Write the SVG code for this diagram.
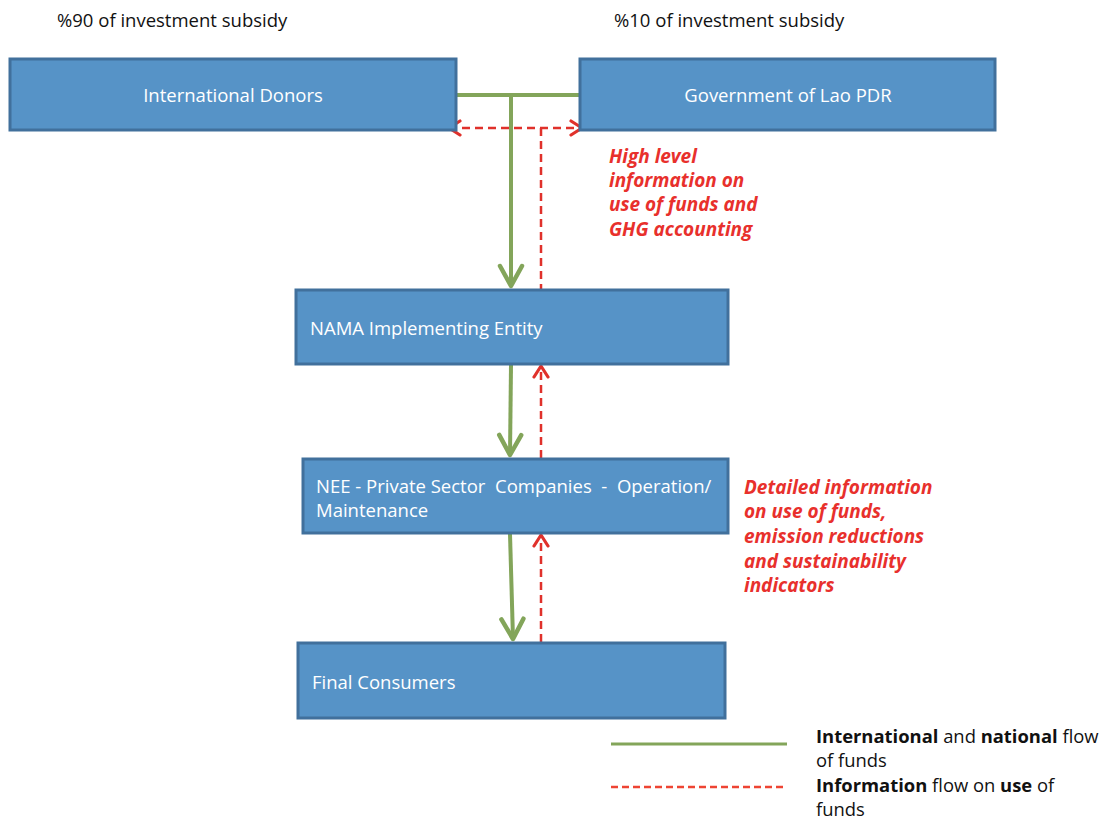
<svg xmlns="http://www.w3.org/2000/svg" width="1104" height="821" viewBox="0 0 1104 821">
  <defs>
    <style>
      .box { fill: #5693C7; stroke: #41709C; stroke-width: 3; }
      .btxt { font-family: "Open Sans", "Liberation Sans", sans-serif; font-size: 18.5px; fill: #FFFFFF; }
      .top { font-family: "Open Sans", "Liberation Sans", sans-serif; font-size: 18.5px; fill: #111111; }
      .note { font-family: "Open Sans", "Liberation Sans", sans-serif; font-size: 19px; font-weight: bold; font-style: italic; fill: #E8302C; }
      .leg { font-family: "Open Sans", "Liberation Sans", sans-serif; font-size: 18.4px; fill: #111111; }
      .fund { fill: none; stroke: #83A55A; stroke-width: 4; }
      .info { fill: none; stroke: #E0312B; stroke-width: 2.5; stroke-dasharray: 8 5; }
    </style>
    <!-- markers are drawn pointing along +x so orient="auto" lines them up with each path -->
    <marker id="gArrow" viewBox="0 0 26 28" refX="23" refY="14" markerWidth="26" markerHeight="28" markerUnits="userSpaceOnUse" orient="auto-start-reverse">
      <path d="M3 3 L23 14 L3 25" fill="none" stroke="#83A55A" stroke-width="4.5" stroke-linecap="round" stroke-linejoin="round"/>
    </marker>
    <marker id="rArrow" viewBox="0 0 18 18" refX="15" refY="9" markerWidth="18" markerHeight="18" markerUnits="userSpaceOnUse" orient="auto-start-reverse">
      <path d="M4 2 L15 9 L4 16" fill="none" stroke="#E0312B" stroke-width="3.2" stroke-linecap="round" stroke-linejoin="round"/>
    </marker>
  </defs>
  <rect width="1104" height="821" fill="#FFFFFF"/>

  <text class="top" x="57" y="27">%90 of investment subsidy</text>
  <text class="top" x="614" y="27">%10 of investment subsidy</text>

  <g id="connectors">
    <!-- funding flows -->
    <line class="fund" x1="456" y1="95" x2="580" y2="95"/>
    <line class="fund" x1="511" y1="95" x2="511" y2="286" marker-end="url(#gArrow)"/>
    <line class="fund" x1="511" y1="365" x2="510" y2="455" marker-end="url(#gArrow)"/>
    <line class="fund" x1="510" y1="534" x2="513" y2="639" marker-end="url(#gArrow)"/>
    <!-- information flows -->
    <line class="info" x1="449" y1="128" x2="582" y2="128" marker-start="url(#rArrow)" marker-end="url(#rArrow)"/>
    <line class="info" x1="541" y1="128" x2="541" y2="290"/>
    <line class="info" x1="541" y1="458" x2="541" y2="366" marker-end="url(#rArrow)"/>
    <line class="info" x1="541" y1="642" x2="541" y2="535" marker-end="url(#rArrow)"/>
  </g>

  <g id="donors">
    <rect class="box" x="10" y="59" width="446" height="71"/>
    <text class="btxt" x="233" y="102" text-anchor="middle">International Donors</text>
  </g>
  <g id="government">
    <rect class="box" x="580" y="59" width="415" height="71"/>
    <text class="btxt" x="788" y="102" text-anchor="middle">Government of Lao PDR</text>
  </g>
  <g id="nama">
    <rect class="box" x="296" y="290" width="432" height="74"/>
    <text class="btxt" x="310" y="335">NAMA Implementing Entity</text>
  </g>
  <g id="nee">
    <rect class="box" x="303" y="459" width="425" height="74"/>
    <text class="btxt" x="316" y="493" xml:space="preserve">NEE - Private Sector  Companies  -  Operation/</text>
    <text class="btxt" x="316" y="517">Maintenance</text>
  </g>
  <g id="consumers">
    <rect class="box" x="298" y="643" width="427" height="75"/>
    <text class="btxt" x="312" y="689">Final Consumers</text>
  </g>

  <g id="note-high">
    <text class="note" x="609" y="163">High level</text>
    <text class="note" x="609" y="187">information on</text>
    <text class="note" x="609" y="211">use of funds and</text>
    <text class="note" x="609" y="236">GHG accounting</text>
  </g>
  <g id="note-detailed">
    <text class="note" x="744" y="494">Detailed information</text>
    <text class="note" x="744" y="518">on use of funds,</text>
    <text class="note" x="744" y="543">emission reductions</text>
    <text class="note" x="744" y="568">and sustainability</text>
    <text class="note" x="744" y="592">indicators</text>
  </g>

  <g id="legend">
    <line x1="611" y1="744" x2="787" y2="744" stroke="#83A55A" stroke-width="3"/>
    <line x1="611" y1="787" x2="787" y2="787" stroke="#EE4433" stroke-width="2.5" stroke-dasharray="7 4"/>
    <text class="leg" x="816" y="743"><tspan font-weight="bold">International</tspan> and <tspan font-weight="bold">national</tspan> flow</text>
    <text class="leg" x="816" y="767">of funds</text>
    <text class="leg" x="816" y="792"><tspan font-weight="bold">Information</tspan> flow on <tspan font-weight="bold">use</tspan> of</text>
    <text class="leg" x="816" y="816">funds</text>
  </g>
</svg>
